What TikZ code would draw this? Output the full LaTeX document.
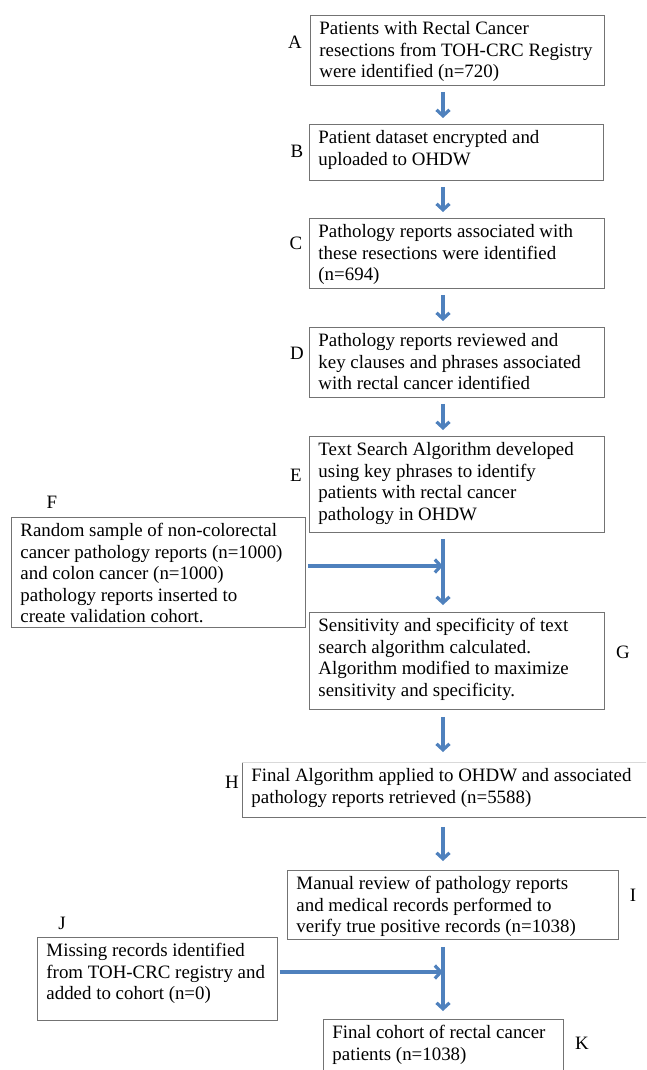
\documentclass[tikz,border=0pt]{standalone}
\usepackage{fontspec}
\setmainfont{Liberation Serif}
\usetikzlibrary{arrows.meta,positioning}

\definecolor{flowblue}{RGB}{79,129,189}
\newcommand{\flowfont}{\fontsize{18.9}{21.5}\selectfont}
\newcommand{\boxtext}[3]{\parbox[c][#2][t]{#1}{\raggedright #3}}

\tikzset{
  stepbox/.style={draw=black!55, line width=0.9pt, inner xsep=9pt, inner ysep=6pt,
    anchor=north west, font=\flowfont},
  steplabel/.style={font=\flowfont},
  flow/.style={flowblue, line width=3.2pt, -{Straight Barb[length=6pt,width=13pt]}}
}

\begin{document}
\begin{tikzpicture}[x=1pt,y=-1pt]
\useasboundingbox (0,0) rectangle (646,1070);
\clip (0,0) rectangle (646,1070);
% main column
\node[stepbox] (a) at (310,15) {\boxtext{276pt}{58pt}{Patients with Rectal Cancer\\resections from TOH-CRC Registry\\were identified (n=720)}};
\node[stepbox] (b) at (309,124) {\boxtext{276pt}{44pt}{Patient dataset encrypted and\\uploaded to OHDW}};
\node[stepbox] (c) at (309,218) {\boxtext{277pt}{58pt}{Pathology reports associated with\\these resections were identified\\(n=694)}};
\node[stepbox] (d) at (309,327) {\boxtext{277pt}{58pt}{Pathology reports reviewed and\\key clauses and phrases associated\\with rectal cancer identified}};
\node[stepbox] (e) at (309,436) {\boxtext{277pt}{84pt}{Text Search Algorithm developed\\using key phrases to identify\\patients with rectal cancer\\pathology in OHDW}};
\node[stepbox] (g) at (309,612) {\boxtext{277pt}{85pt}{Sensitivity and specificity of text\\search algorithm calculated.\\Algorithm modified to maximize\\sensitivity and specificity.}};
\node[stepbox, draw=none] (h) at (242,762) {\boxtext{400pt}{43pt}{Final Algorithm applied to OHDW and associated\\pathology reports retrieved (n=5588)}};
\draw[black!55, line width=0.9pt] (h.north west) -- (h.south west) -- (h.south east);
\draw[black!15, line width=0.9pt] (h.north west) -- (h.north east);
\node[stepbox] (i) at (287,870) {\boxtext{313pt}{57pt}{Manual review of pathology reports\\and medical records performed to\\verify true positive records (n=1038)}};
\node[stepbox] (k) at (323,1019) {\boxtext{222pt}{48pt}{Final cohort of rectal cancer\\patients (n=1038)}};
% side inputs
\node[stepbox] (f) at (11,517) {\boxtext{276pt}{98pt}{Random sample of non-colorectal\\cancer pathology reports (n=1000)\\and colon cancer (n=1000)\\pathology reports inserted to\\create validation cohort.}};
\node[stepbox] (j) at (37,937) {\boxtext{222pt}{71pt}{Missing records identified\\from TOH-CRC registry and\\added to cohort (n=0)}};
% letters
\node[steplabel] (la) at (295,42) {A};
\node[steplabel] (lb) at (297,151) {B};
\node[steplabel] (lc) at (296,243) {C};
\node[steplabel] (ld) at (297,353) {D};
\node[steplabel] (le) at (296,475) {E};
\node[steplabel] (lf) at (52,502) {F};
\node[steplabel] (lg) at (623,652) {G};
\node[steplabel] (lh) at (232,782) {H};
\node[steplabel] (li) at (633,895) {I};
\node[steplabel] (lj) at (62,923) {J};
\node[steplabel] (lk) at (582,1043) {K};
% arrows
\coordinate (spine) at (443,0);
\coordinate (fjoin) at (443,566);
\coordinate (jjoin) at (443,972);
\draw[flow] ([yshift=-6pt]a.south -| spine) -- ([yshift=6pt]b.north -| spine);
\draw[flow] ([yshift=-6pt]b.south -| spine) -- ([yshift=6pt]c.north -| spine);
\draw[flow] ([yshift=-6pt]c.south -| spine) -- ([yshift=6pt]d.north -| spine);
\draw[flow] ([yshift=-6pt]d.south -| spine) -- ([yshift=6pt]e.north -| spine);
\draw[flow] ([yshift=-6pt]e.south -| spine) -- ([yshift=7pt]g.north -| spine);
\draw[flow] ([xshift=2pt]f.east |- fjoin) -- (fjoin);
\draw[flow] ([yshift=-7pt]g.south -| spine) -- ([yshift=10pt]h.north -| spine);
\draw[flow] ([yshift=-9pt]h.south -| spine) -- ([yshift=9pt]i.north -| spine);
\draw[flow] ([yshift=-7pt]i.south -| spine) -- ([yshift=8pt]k.north -| spine);
\draw[flow] ([xshift=2pt]j.east |- jjoin) -- (jjoin);
\end{tikzpicture}
\end{document}
